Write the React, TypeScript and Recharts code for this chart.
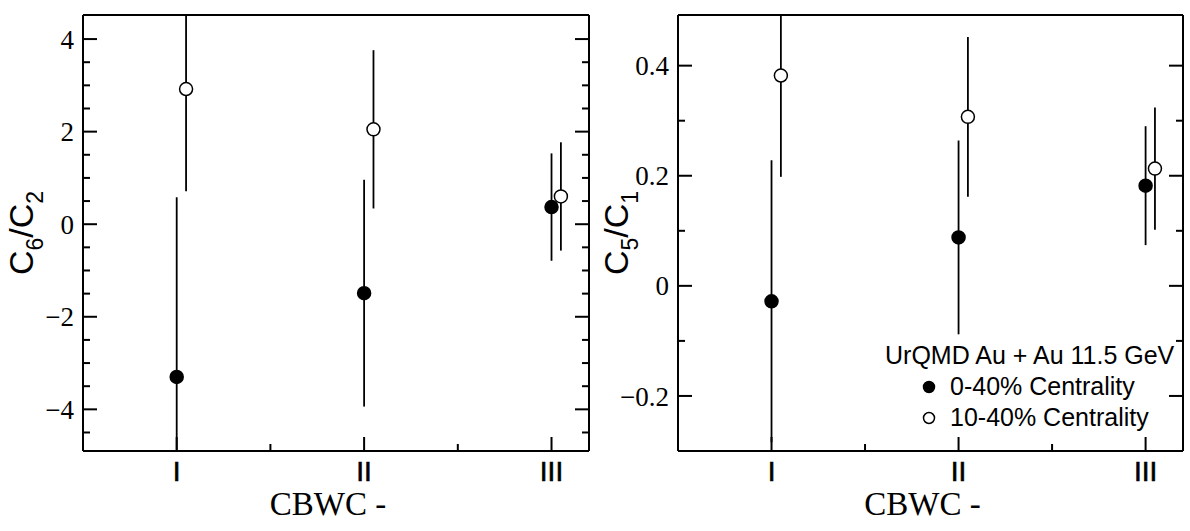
import { ScatterChart, Scatter, XAxis, YAxis, ErrorBar, Legend } from 'recharts';

const SERIF = '"Liberation Serif", "Times New Roman", serif';
const SANS = '"Liberation Sans", Arial, sans-serif';

// CBWC methods on the x axis
const categories = ['I', 'II', 'III'];
const seriesNames = ['0-40% Centrality', '10-40% Centrality'];
const legendTitle = 'UrQMD Au + Au 11.5 GeV';

// C6/C2 (left panel)
const c6c2Central = [-3.3, -1.49, 0.37];
const c6c2CentralErr = [3.88, 2.45, 1.16];
const c6c2Peripheral = [2.92, 2.05, 0.6];
const c6c2PeripheralErr = [2.21, 1.71, 1.17];

// C5/C1 (right panel)
const c5c1Central = [-0.028, 0.088, 0.182];
const c5c1CentralErr = [0.256, 0.176, 0.108];
const c5c1Peripheral = [0.382, 0.307, 0.213];
const c5c1PeripheralErr = [0.184, 0.145, 0.111];

// ticks
const xMajorTicks = [1, 2, 3];
const xMinorTicks = [1.5, 2.5];
const c6c2MajorTicks = [-4, -2, 0, 2, 4];
const c6c2MinorTicks = [-4.5, -3.5, -3, -2.5, -1.5, -1, -0.5, 0.5, 1, 1.5, 2.5, 3, 3.5];
const c5c1MajorTicks = [-0.2, 0, 0.2, 0.4];
const c5c1MinorTicks = [-0.1, 0.1, 0.3];

const X_DOMAIN = [0.5, 3.2];
const OPEN_SHIFT = 0.05; // open markers drawn slightly to the right
const FRAME = { stroke: '#000', strokeWidth: 2 };
const CHART_W = 595;
const CHART_H = 531;
const MARGIN_TOP = 15;
const AXIS_W = 83;
const AXIS_H = 80;

const toPoints = (vals: number[], errs: number[], shift: number) =>
  vals.map((y, i) => ({ x: i + 1 + shift, y, err: errs[i] }));

const fmtY = (v: number) => (v < 0 ? '\u2212' + String(-v) : String(v));
const fmtX = (v: number) => categories[v - 1] ?? '';

function FrameTick(props: any) {
  const { x, y, payload, side, majors, format, gap = 0 } = props;
  const v = payload.value;
  const major = majors.includes(v);
  const len = major ? 14 : 7;
  let line = null;
  let label = null;
  if (side === 'left') {
    line = <line x1={x + gap} x2={x + gap + len} y1={y} y2={y} />;
    if (major && format)
      label = (
        <text
          x={x}
          y={y}
          dy="0.355em"
          textAnchor="end"
          fontFamily={SERIF}
          fontSize={27}
          fill="#000"
          style={{ fontFamily: SERIF, fontSize: 27 }}
        >
          {format(v)}
        </text>
      );
  } else if (side === 'right') {
    line = <line x1={x} x2={x - len} y1={y} y2={y} />;
  } else if (side === 'top') {
    line = <line x1={x} x2={x} y1={y} y2={y + len} />;
  } else {
    line = <line x1={x} x2={x} y1={y - gap} y2={y - gap - len} />;
    if (major && format)
      label = (
        <text
          x={x}
          y={y}
          dy="0.71em"
          textAnchor="middle"
          fontFamily={SANS}
          fontSize={28}
          fill="#000"
          stroke="#000"
          strokeWidth={0.6}
          style={{ fontFamily: SANS, fontSize: 28 }}
        >
          {format(v)}
        </text>
      );
  }
  return (
    <g>
      <g stroke="#000" strokeWidth={2}>{line}</g>
      {label}
    </g>
  );
}

function YLabel({ viewBox, num, den }: any) {
  const cx = (viewBox?.x ?? 0) + 33;
  const cy = (viewBox?.y ?? 15) + (viewBox?.height ?? 436) / 2;
  return (
    <text
      x={cx}
      y={cy}
      transform={`rotate(-90 ${cx} ${cy})`}
      textAnchor="middle"
      fontFamily={SANS}
      fontSize={34}
      fill="#000"
    >
      C<tspan fontSize={23} dy={10}>{num}</tspan>
      <tspan dy={-10}>/C</tspan>
      <tspan fontSize={23} dy={10}>{den}</tspan>
    </text>
  );
}

function XLabel({ viewBox }: any) {
  const cx = (viewBox?.x ?? 83) + (viewBox?.width ?? 506) / 2 - 8;
  const cy = (viewBox?.y ?? 451) + 64;
  return (
    <text x={cx} y={cy} textAnchor="middle" fontFamily={SERIF} fontSize={33} fill="#000">
      CBWC -
    </text>
  );
}

function LegendBox({ payload }: any) {
  const items = payload && payload.length ? payload : seriesNames.map((n, i) => ({ value: n, color: i ? '#fff' : '#000' }));
  return (
    <div style={{ fontFamily: SANS, fontSize: 25, lineHeight: '31px', color: '#000', whiteSpace: 'nowrap' }}>
      <div>{legendTitle}</div>
      {items.map((entry: any, i: number) => (
        <div key={i} style={{ position: 'relative', paddingLeft: 65 }}>
          <svg width={14} height={14} style={{ position: 'absolute', left: 37, top: 9 }}>
            <circle cx={7} cy={7} r={5.5} fill={entry.color} stroke="#000" strokeWidth={1.5} />
          </svg>
          {entry.value}
        </div>
      ))}
    </div>
  );
}

const marker = (fill: string) => (p: any) =>
  <circle cx={p.cx} cy={p.cy} r={6.5} fill={fill} stroke="#000" strokeWidth={1.5} />;

function Panel(props: any) {
  const { id, central, centralErr, peripheral, peripheralErr, yDomain, yMajor, yMinor, num, den, right, legend } = props;
  const yTicks = [...yMajor, ...yMinor];
  const xTicks = [...xMajorTicks, ...xMinorTicks];
  const clip = `url(#${id}-plot)`;
  return (
    <div style={{ position: 'relative', width: CHART_W, height: CHART_H }}>
      <svg width={0} height={0} style={{ position: 'absolute' }}>
        <defs>
          <clipPath id={`${id}-plot`} clipPathUnits="userSpaceOnUse">
            <rect x={AXIS_W} y={MARGIN_TOP} width={CHART_W - AXIS_W - right} height={CHART_H - MARGIN_TOP - AXIS_H} />
          </clipPath>
        </defs>
      </svg>
      <ScatterChart width={CHART_W} height={CHART_H} margin={{ top: MARGIN_TOP, right, bottom: 0, left: 0 }}>
        <XAxis
          xAxisId="b"
          type="number"
          dataKey="x"
          domain={X_DOMAIN}
          allowDataOverflow
          ticks={xTicks}
          interval={0}
          height={AXIS_H}
          tickLine={false}
          tickSize={0}
          tickMargin={10}
          axisLine={FRAME}
          tick={<FrameTick side="bottom" majors={xMajorTicks} format={fmtX} gap={10} />}
          label={<XLabel />}
        />
        <XAxis
          xAxisId="t"
          orientation="top"
          mirror
          type="number"
          domain={X_DOMAIN}
          allowDataOverflow
          ticks={xTicks}
          interval={0}
          tickLine={false}
          tickSize={0}
          tickMargin={0}
          axisLine={FRAME}
          tick={<FrameTick side="top" majors={xMajorTicks} />}
        />
        <YAxis
          yAxisId="l"
          type="number"
          dataKey="y"
          domain={yDomain}
          allowDataOverflow
          ticks={yTicks}
          interval={0}
          width={AXIS_W}
          tickLine={false}
          tickSize={0}
          tickMargin={9}
          axisLine={FRAME}
          tick={<FrameTick side="left" majors={yMajor} format={fmtY} gap={9} />}
          label={<YLabel num={num} den={den} />}
        />
        <YAxis
          yAxisId="r"
          orientation="right"
          mirror
          type="number"
          domain={yDomain}
          allowDataOverflow
          ticks={yTicks}
          interval={0}
          tickLine={false}
          tickSize={0}
          tickMargin={0}
          axisLine={FRAME}
          tick={<FrameTick side="right" majors={yMajor} />}
        />
        {legend && (
          <Legend
            layout="vertical"
            align="center"
            verticalAlign="middle"
            content={(p: any) => <LegendBox {...p} />}
            wrapperStyle={{ left: 290, top: 340, width: 'auto', height: 'auto' }}
          />
        )}
        <Scatter
          xAxisId="b"
          yAxisId="l"
          name={seriesNames[0]}
          data={toPoints(central, centralErr, 0)}
          fill="#000"
          shape={marker('#000')}
          isAnimationActive={false}
        >
          <ErrorBar dataKey="err" direction="y" width={0} stroke="#000" strokeWidth={1.8} clipPath={clip} />
        </Scatter>
        <Scatter
          xAxisId="b"
          yAxisId="l"
          name={seriesNames[1]}
          data={toPoints(peripheral, peripheralErr, OPEN_SHIFT)}
          fill="#fff"
          shape={marker('#fff')}
          isAnimationActive={false}
        >
          <ErrorBar dataKey="err" direction="y" width={0} stroke="#000" strokeWidth={1.8} clipPath={clip} />
        </Scatter>
      </ScatterChart>
    </div>
  );
}

export default function App() {
  return (
    <div style={{ position: 'absolute', left: 0, top: 0, display: 'flex', background: '#fff' }}>
      <Panel
        id="c6c2"
        central={c6c2Central}
        centralErr={c6c2CentralErr}
        peripheral={c6c2Peripheral}
        peripheralErr={c6c2PeripheralErr}
        yDomain={[-4.9, 4.52]}
        yMajor={c6c2MajorTicks}
        yMinor={c6c2MinorTicks}
        num="6"
        den="2"
        right={6}
      />
      <Panel
        id="c5c1"
        central={c5c1Central}
        centralErr={c5c1CentralErr}
        peripheral={c5c1Peripheral}
        peripheralErr={c5c1PeripheralErr}
        yDomain={[-0.3, 0.492]}
        yMajor={c5c1MajorTicks}
        yMinor={c5c1MinorTicks}
        num="5"
        den="1"
        right={7}
        legend
      />
    </div>
  );
}
